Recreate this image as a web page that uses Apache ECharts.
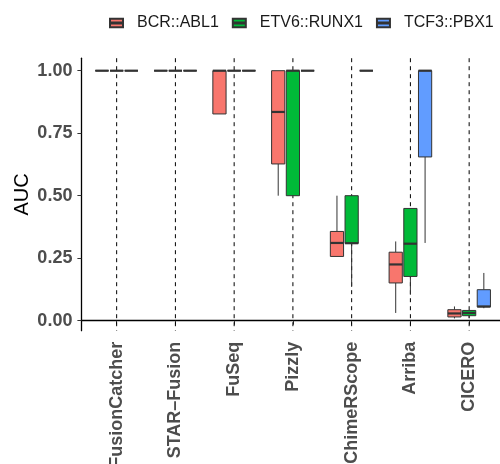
<!DOCTYPE html>
<html>
<head>
<meta charset="utf-8">
<script src="https://cdn.jsdelivr.net/npm/echarts@6/dist/echarts.min.js"></script>
<style>
  html, body { margin: 0; padding: 0; background: #fff; }
  #main { width: 500px; height: 464px; }
</style>
</head>
<body>
<div id="main"></div>
<script>
// tools on the x axis
var categories = ['FusionCatcher', 'STAR\u2013Fusion', 'FuSeq', 'Pizzly', 'ChimeRScope', 'Arriba', 'CICERO'];
var yTicks = [0, 0.25, 0.5, 0.75, 1];
// five numbers per box: min, Q1, median, Q3, max
var bcrAbl1 = [
  [1, 1, 1, 1, 1],
  [1, 1, 1, 1, 1],
  [0.827, 0.827, 1, 1, 1],
  [0.50, 0.627, 0.835, 1, 1],
  [0.257, 0.257, 0.311, 0.357, 0.50],
  [0.031, 0.151, 0.225, 0.274, 0.317],
  [0.009, 0.015, 0.029, 0.044, 0.057]
];
var etv6Runx1 = [
  [1, 1, 1, 1, 1],
  [1, 1, 1, 1, 1],
  [1, 1, 1, 1, 1],
  [0.50, 0.50, 1, 1, 1],
  [0.135, 0.309, 0.31, 0.50, 0.50],
  [0.104, 0.177, 0.308, 0.449, 0.449],
  [0.01, 0.02, 0.031, 0.041, 0.041]
];
var tcf3Pbx1 = [
  [1, 1, 1, 1, 1],
  [1, 1, 1, 1, 1],
  [1, 1, 1, 1, 1],
  [1, 1, 1, 1, 1],
  [1, 1, 1, 1, 1],
  [0.311, 0.655, 1, 1, 1],
  [0.05, 0.055, 0.057, 0.124, 0.191]
];
var seriesNames = ['BCR::ABL1', 'ETV6::RUNX1', 'TCF3::PBX1'];
var seriesColors = ['#F8766D', '#00BA38', '#619CFF'];

var font = 'Liberation Sans, Arial, sans-serif';
var edge = '#333333';
var yMin = -0.04, yMax = 1.05;

function toRows(list) {
  return list.map(function (v, i) { return [i + 1].concat(v); });
}

function boxRenderer(offset, color) {
  return function (params, api) {
    var x = api.value(0) + offset;
    var lo = api.value(1), q1 = api.value(2), med = api.value(3), q3 = api.value(4), hi = api.value(5);
    var hw = 0.1125;
    var pLo = api.coord([x, lo]), pQ1 = api.coord([x, q1]);
    var pQ3 = api.coord([x, q3]), pHi = api.coord([x, hi]);
    var a = api.coord([x - hw, q3]), b = api.coord([x + hw, q1]);
    var m1 = api.coord([x - hw, med]), m2 = api.coord([x + hw, med]);
    var kids = [];
    if (hi > q3) {
      kids.push({ type: 'line', shape: { x1: pQ3[0], y1: pQ3[1], x2: pHi[0], y2: pHi[1] }, style: { stroke: edge, lineWidth: 1 } });
    }
    if (lo < q1) {
      kids.push({ type: 'line', shape: { x1: pQ1[0], y1: pQ1[1], x2: pLo[0], y2: pLo[1] }, style: { stroke: edge, lineWidth: 1 } });
    }
    kids.push({ type: 'rect', shape: { x: a[0], y: a[1], width: b[0] - a[0], height: b[1] - a[1] }, style: { fill: color, stroke: edge, lineWidth: 1 } });
    kids.push({ type: 'line', shape: { x1: m1[0], y1: m1[1], x2: m2[0], y2: m2[1] }, style: { stroke: edge, lineWidth: 2.2 } });
    return { type: 'group', children: kids };
  };
}

var groups = [bcrAbl1, etv6Runx1, tcf3Pbx1];
var offsets = [-0.25, 0, 0.25];
// dashed guide at each tool, under the boxes
var series = [{
  type: 'custom',
  z: 1,
  silent: true,
  renderItem: function (params, api) {
    var top = api.coord([api.value(0), yMax]);
    var bot = api.coord([api.value(0), yMin]);
    return {
      type: 'line',
      shape: { x1: top[0], y1: top[1], x2: bot[0], y2: bot[1] },
      style: { stroke: '#000', lineWidth: 1, lineDash: [4, 4] }
    };
  },
  encode: { x: 0 },
  data: categories.map(function (c, i) { return [i + 1]; })
}];
groups.forEach(function (g, i) {
  series.push({
    name: seriesNames[i],
    type: 'custom',
    z: 2,
    itemStyle: { color: seriesColors[i], borderColor: edge, borderWidth: 1 },
    renderItem: boxRenderer(offsets[i], seriesColors[i]),
    encode: { x: 0, y: [1, 2, 3, 4, 5] },
    data: toRows(g)
  });
});

var chart = echarts.init(document.getElementById('main'), null, { renderer: 'canvas' });
chart.setOption({
  animation: false,
  backgroundColor: '#fff',
  legend: {
    data: seriesNames,
    left: 109,
    top: 15,
    padding: 0,
    itemWidth: 13,
    itemHeight: 12,
    itemGap: 13,
    icon: 'path://M0,2H12V5.6H0Z M0,6.4H12V10H0Z',
    textStyle: { fontFamily: font, fontSize: 16, color: '#1a1a1a', padding: [0, 0, 0, 9] }
  },
  grid: {
    left: 81.4,
    top: 58.2,
    width: 423,
    height: 272.5,
    containLabel: false,
    outerBoundsMode: 'none'
  },
  xAxis: {
    type: 'value',
    min: 0.4,
    max: 7.6,
    axisLine: { lineStyle: { color: '#000', width: 1.3 } },
    axisTick: { customValues: [1, 2, 3, 4, 5, 6, 7], length: 4, lineStyle: { color: '#333' } },
    axisLabel: {
      customValues: [1, 2, 3, 4, 5, 6, 7],
      formatter: function (v) { return categories[Math.round(v) - 1]; },
      rotate: 90,
      margin: 11,
      fontFamily: font,
      fontSize: 18,
      fontWeight: 'bold',
      color: '#4D4D4D'
    },
    splitLine: { show: false }
  },
  yAxis: {
    type: 'value',
    min: yMin,
    max: yMax,
    name: 'AUC',
    nameLocation: 'middle',
    nameRotate: 90,
    nameGap: 49,
    nameMoveOverlap: false,
    nameTextStyle: { fontFamily: font, fontSize: 20, color: '#000' },
    axisLine: { show: true, lineStyle: { color: '#000', width: 1.3 } },
    axisTick: { show: true, customValues: yTicks, length: 4, lineStyle: { color: '#333' } },
    axisLabel: {
      customValues: yTicks,
      formatter: function (v) { return v.toFixed(2); },
      margin: 9,
      fontFamily: font,
      fontSize: 18,
      fontWeight: 'bold',
      color: '#4D4D4D'
    },
    splitLine: { show: false }
  },
  series: series
});
</script>
</body>
</html>
